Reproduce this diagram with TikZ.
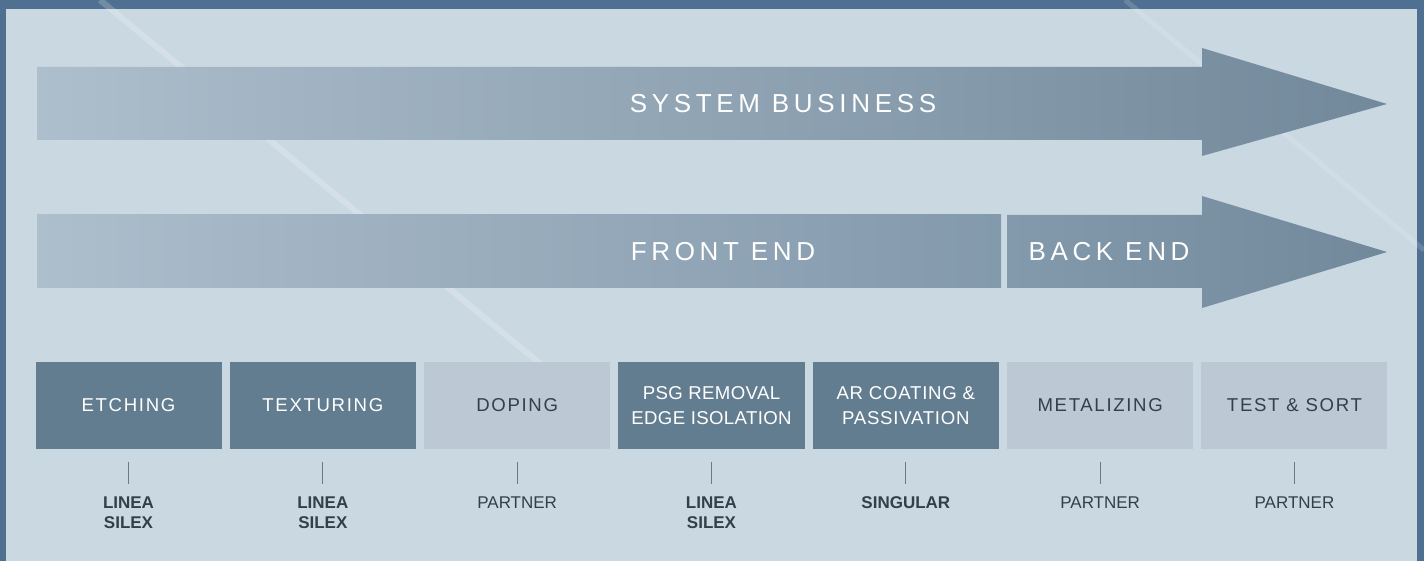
\documentclass[tikz,border=0pt]{standalone}
\usepackage{fontspec}
\setmainfont{Liberation Sans}
\usetikzlibrary{calc}

\definecolor{frameblue}{HTML}{4F7090}
\definecolor{panel}{HTML}{CAD8E2}
\definecolor{arrowlight}{HTML}{ADBECC}
\definecolor{arrowmid}{HTML}{8399AC}
\definecolor{arrowdark}{HTML}{72899B}
\definecolor{stepdark}{HTML}{637D90}
\definecolor{steplight}{HTML}{BCC9D4}
\definecolor{labelgray}{HTML}{33404B}
\definecolor{tickgray}{HTML}{6B7A86}

\begin{document}
\begin{tikzpicture}
	[x=0.5pt,y=-0.5pt,
	banner/.style={text=white,font=\fontsize{13}{15}\selectfont\addfontfeatures{LetterSpace=18}},
	stepbox/.style={minimum width=93pt,minimum height=43.5pt,inner sep=0pt,align=center,
			font=\fontsize{9.3}{12.5}\selectfont\addfontfeatures{LetterSpace=9}},
	darkstep/.style={stepbox,fill=stepdark,text=white},
	lightstep/.style={stepbox,fill=steplight,text=labelgray},
	partner/.style={anchor=north,inner sep=0pt,align=center,text=labelgray,
			font=\fontsize{8.5}{10}\selectfont}]
	\useasboundingbox (0,0) rectangle (1424,561);
	% frame and panel
	\fill[frameblue] (0,0) rectangle (1424,561);
	\fill[panel] (6,9) rectangle (1417,561);
	\begin{scope}
		\clip (0,0) rectangle (1424,561);
		\draw[white,opacity=0.2,line width=3pt] (100,0) -- (560,380);
		\draw[white,opacity=0.15,line width=2.5pt] (1125,0) -- (1424,250);
	\end{scope}

	% arrows
	\path[left color=arrowlight,right color=arrowdark]
		(37,67) -- (1202,67) -- (1202,48) -- (1387,104) -- (1202,156) -- (1202,140) -- (37,140) -- cycle;
	\path[left color=arrowlight,right color=arrowmid] (37,215) rectangle (1001,288);
	\path[left color=arrowmid,right color=arrowdark]
		(1007,215) -- (1202,215) -- (1202,196) -- (1387,252) -- (1202,308) -- (1202,288) -- (1007,288) -- cycle;
	\node[banner] (system) at (783,104) {SYSTEM BUSINESS};
	\node[banner] (front) at (723,252) {FRONT END};
	\node[banner] (back) at (1109,252) {BACK END};

	% process steps
	\foreach \i/\sty/\txt/\lab in {
		1/darkstep/ETCHING/\textbf{LINEA}\\\textbf{SILEX},
		2/darkstep/TEXTURING/\textbf{LINEA}\\\textbf{SILEX},
		3/lightstep/DOPING/PARTNER,
		4/darkstep/{\addfontfeatures{LetterSpace=2}PSG REMOVAL\\\addfontfeatures{LetterSpace=2}EDGE ISOLATION}/\textbf{LINEA}\\\textbf{SILEX},
		5/darkstep/{\addfontfeatures{LetterSpace=4}AR COATING \&\\\addfontfeatures{LetterSpace=4}PASSIVATION}/\textbf{SINGULAR},
		6/lightstep/METALIZING/PARTNER,
		7/lightstep/TEST \& SORT/PARTNER}
	{
		\node[\sty] (s\i) at ({128.5+194.33*(\i-1)},405.5) {\txt};
		\node[partner] (p\i) at ({128.5+194.33*(\i-1)},496) {\lab};
		\draw[tickgray,line width=0.6pt,shorten <=6.5pt,shorten >=6pt] (s\i.south) -- (p\i.north);
	}
\end{tikzpicture}
\end{document}
